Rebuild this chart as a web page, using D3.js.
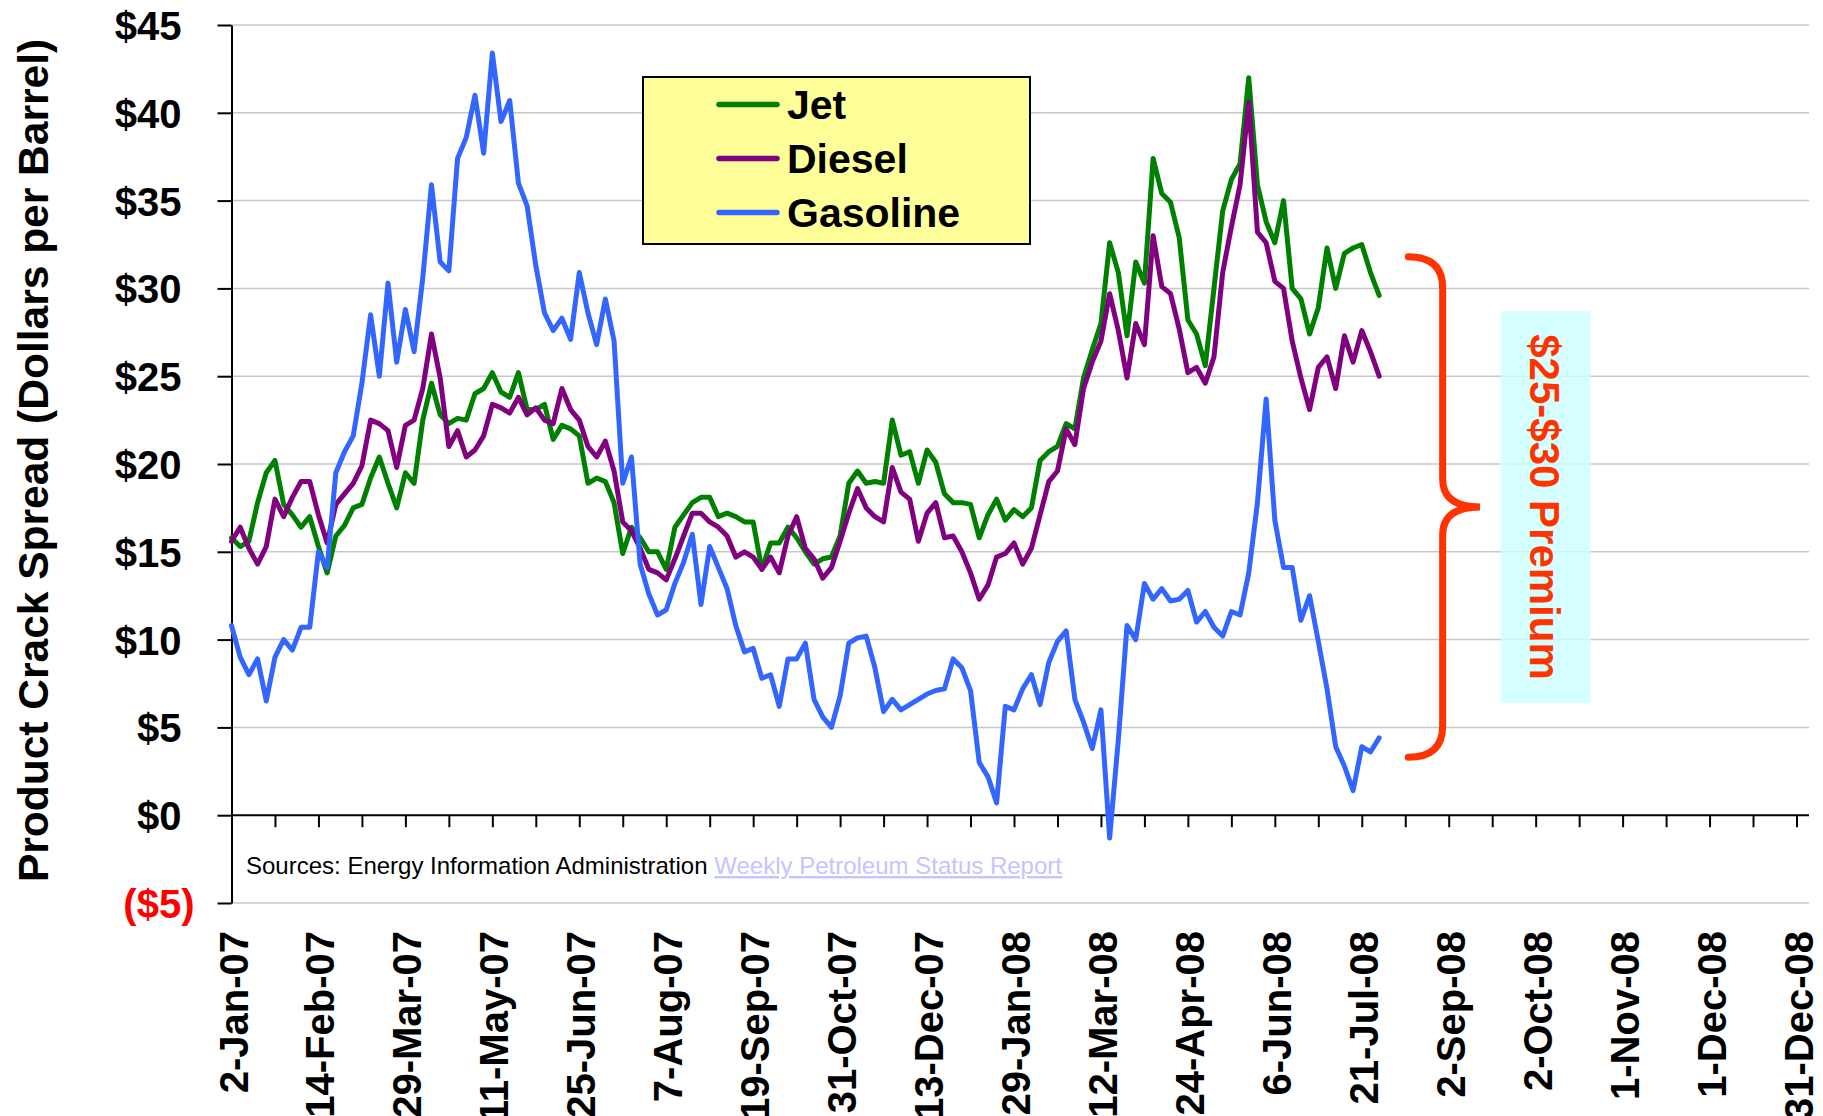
<!DOCTYPE html>
<html>
<head>
<meta charset="utf-8">
<script src="https://d3js.org/d3.v7.min.js"></script>
<style>
    body { margin: 0; background: #fff; }
    svg { display: block; font-family: Arial, "Liberation Sans", sans-serif; }
</style>
</head>
<body>
<svg id="chart" width="1823" height="1116"></svg>
<script>
// x axis: one label on every second tick
var dateLabels = ["2-Jan-07", "14-Feb-07", "29-Mar-07", "11-May-07", "25-Jun-07", "7-Aug-07",
    "19-Sep-07", "31-Oct-07", "13-Dec-07", "29-Jan-08", "12-Mar-08", "24-Apr-08", "6-Jun-08",
    "21-Jul-08", "2-Sep-08", "2-Oct-08", "1-Nov-08", "1-Dec-08", "31-Dec-08"];
var tickCount = 36;       // tick intervals on the category axis
var samplesPerTick = 5;   // readings per tick interval

var yTickValues = [-5, 0, 5, 10, 15, 20, 25, 30, 35, 40, 45];

var seriesNames = ["Jet", "Diesel", "Gasoline"];
var seriesColors = ["#008000", "#800080", "#3366ff"];

// crack spreads, $/bbl
var jet = [15.8, 15.3, 15.6, 17.8, 19.5, 20.2, 17.7, 17.1, 16.4, 17.0,
    15.3, 13.8, 15.9, 16.5, 17.5, 17.7, 19.2, 20.4, 18.9, 17.5,
    19.5, 18.9, 22.5, 24.6, 22.8, 22.3, 22.6, 22.5, 24.0, 24.3,
    25.2, 24.1, 23.8, 25.2, 23.1, 23.1, 23.4, 21.4, 22.2, 22.0,
    21.6, 18.9, 19.2, 19.0, 17.8, 14.9, 16.4, 15.8, 15.0, 15.0,
    14.0, 16.4, 17.1, 17.8, 18.1, 18.1, 17.0, 17.2, 17.0, 16.7,
    16.7, 14.0, 15.5, 15.5, 16.4, 15.8, 15.0, 14.3, 14.6, 14.7,
    15.9, 18.9, 19.6, 18.9, 19.0, 18.9, 22.5, 20.5, 20.7, 18.9,
    20.8, 20.1, 18.3, 17.8, 17.8, 17.7, 15.8, 17.1, 18.0, 16.8,
    17.4, 17.0, 17.5, 20.2, 20.7, 21.0, 22.3, 22.0, 24.9, 26.5,
    28.0, 32.6, 30.9, 27.3, 31.5, 30.3, 37.4, 35.4, 34.9, 32.9,
    28.2, 27.4, 25.6, 30.0, 34.4, 36.2, 37.1, 42.0, 35.9, 33.8,
    32.6, 35.0, 30.0, 29.4, 27.4, 28.9, 32.3, 30.0, 32.0, 32.3,
    32.5, 30.9, 29.6];

var diesel = [15.6, 16.4, 15.2, 14.3, 15.3, 18.0, 17.0, 18.1, 19.0, 19.0,
    17.1, 15.5, 17.7, 18.3, 18.9, 19.9, 22.5, 22.3, 21.9, 19.8,
    22.2, 22.5, 24.3, 27.4, 24.9, 21.0, 21.9, 20.4, 20.8, 21.6,
    23.4, 23.2, 22.9, 23.8, 22.8, 23.2, 22.5, 22.3, 24.3, 23.1,
    22.5, 21.0, 20.4, 21.3, 19.6, 16.7, 16.2, 15.2, 14.0, 13.8,
    13.4, 14.6, 15.9, 17.2, 17.2, 16.7, 16.4, 15.9, 14.7, 15.0,
    14.7, 14.0, 14.7, 13.8, 15.9, 17.0, 15.2, 14.6, 13.5, 14.1,
    15.6, 17.2, 18.6, 17.5, 17.0, 16.7, 19.8, 18.4, 18.0, 15.6,
    17.2, 17.8, 15.8, 15.9, 15.0, 13.8, 12.3, 13.1, 14.7, 14.9,
    15.5, 14.3, 15.2, 17.1, 19.0, 19.6, 22.0, 21.1, 24.3, 25.8,
    27.0, 29.7, 27.6, 24.9, 28.0, 26.8, 33.0, 30.1, 29.7, 27.7,
    25.2, 25.5, 24.6, 26.1, 30.9, 33.5, 35.9, 40.6, 33.2, 32.6,
    30.4, 30.0, 27.0, 24.9, 23.1, 25.5, 26.1, 24.3, 27.3, 25.8,
    27.6, 26.4, 25.0];

var gasoline = [10.8, 9.0, 8.0, 8.9, 6.5, 9.0, 10.0, 9.4, 10.7, 10.7,
    15.0, 14.1, 19.5, 20.7, 21.6, 24.6, 28.5, 25.0, 30.3, 25.8,
    28.8, 26.4, 30.6, 35.9, 31.5, 31.0, 37.4, 38.6, 41.0, 37.7,
    43.4, 39.5, 40.7, 36.0, 34.7, 31.3, 28.6, 27.6, 28.3, 27.1,
    30.9, 28.6, 26.8, 29.4, 27.0, 18.9, 20.4, 14.3, 12.6, 11.4,
    11.7, 13.2, 14.4, 16.0, 12.0, 15.3, 14.1, 12.9, 10.8, 9.3,
    9.5, 7.8, 8.0, 6.2, 8.9, 8.9, 9.8, 6.6, 5.6, 5.0,
    6.8, 9.8, 10.1, 10.2, 8.4, 5.9, 6.6, 6.0, 6.3, 6.6,
    6.9, 7.1, 7.2, 8.9, 8.4, 7.1, 3.0, 2.2, 0.7, 6.2,
    6.0, 7.2, 8.0, 6.3, 8.7, 9.9, 10.5, 6.6, 5.3, 3.8,
    6.0, -1.3, 4.3, 10.8, 10.0, 13.2, 12.3, 12.9, 12.2, 12.3,
    12.8, 11.0, 11.6, 10.7, 10.2, 11.6, 11.4, 13.8, 17.8, 23.7,
    16.8, 14.1, 14.1, 11.1, 12.5, 9.9, 7.2, 3.9, 2.8, 1.4,
    3.9, 3.6, 4.4];

// annotation, in axis units
var premiumLabel = "$25-$30 Premium";
var braceSpan = [31.8, 3.3];      // dollars, top and bottom ends of the brace
var braceTicks = [27.07, 27.86, 28.72]; // ends, spine, point
var premiumBox = {t0: 29.2, t1: 31.27, top: 28.7, bottom: 6.4};

var sourceText = "Sources: Energy Information Administration ";
var sourceLink = "Weekly Petroleum Status Report";

var svg = d3.select("#chart");

var x = d3.scaleLinear().domain([0, tickCount]).range([231.5, 1796.5]);
var y = d3.scaleLinear().domain([-5, 45]).range([903, 25]);
var plotRight = x(tickCount) + 12.5;   // plot area runs a little past the last tick

function dollars(v) {
    return v < 0 ? "($" + (-v) + ")" : "$" + v;
}

// horizontal gridlines
svg.append("g")
    .selectAll("line")
    .data(yTickValues.filter(function (d) { return d !== 0; }))
    .enter().append("line")
    .attr("x1", x(0))
    .attr("x2", plotRight)
    .attr("y1", function (d) { return y(d); })
    .attr("y2", function (d) { return y(d); })
    .attr("stroke", "#c8c8c8")
    .attr("stroke-width", 1.5);

// y axis
var yAxis = d3.axisLeft(y)
    .tickValues(yTickValues)
    .tickSize(14)
    .tickSizeOuter(0)
    .tickPadding(36)
    .tickFormat(dollars);

var gy = svg.append("g")
    .attr("transform", "translate(" + x(0) + ",0)")
    .call(yAxis)
    .attr("font-family", null)
    .attr("font-size", null);
gy.select(".domain").attr("stroke", "#000").attr("stroke-width", 2);
gy.selectAll(".tick line").attr("stroke", "#000").attr("stroke-width", 2);
gy.selectAll(".tick text")
    .attr("font-size", 40)
    .attr("font-weight", "bold")
    .attr("dy", "0.36em")
    // negative format has a closing bracket that positive values leave room for
    .attr("dx", function (d) { return d < 0 ? 13 : 0; })
    .attr("fill", function (d) { return d < 0 ? "#ff0000" : "#000"; });

// x axis along $0
var xAxis = d3.axisBottom(x)
    .tickValues(d3.range(0, tickCount + 1))
    .tickSize(12)
    .tickSizeOuter(0)
    .tickFormat("");

var gx = svg.append("g")
    .attr("transform", "translate(0," + y(0) + ")")
    .call(xAxis);
gx.select(".domain").remove();
gx.append("line")
    .attr("x1", x(0)).attr("x2", plotRight)
    .attr("stroke", "#000").attr("stroke-width", 2);
gx.selectAll(".tick line").attr("stroke", "#000").attr("stroke-width", 2);

svg.append("g")
    .selectAll("text")
    .data(dateLabels)
    .enter().append("text")
    .attr("transform", function (d, i) {
        return "translate(" + (x(i * 2) + 16) + ",931) rotate(-90)";
    })
    .attr("text-anchor", "end")
    .attr("font-size", 40)
    .attr("font-weight", "bold")
    .text(function (d) { return d; });

// y axis title
svg.append("text")
    .attr("transform", "translate(48," + y(20.2) + ") rotate(-90)")
    .attr("text-anchor", "middle")
    .attr("font-size", 42.5)
    .attr("font-weight", "bold")
    .text("Product Crack Spread (Dollars per Barrel)");

// source note
var src = svg.append("text")
    .attr("x", 246)
    .attr("y", 874)
    .attr("font-size", 24)
    .attr("fill", "#000")
    .attr("xml:space", "preserve")
    .text(sourceText);
src.append("tspan")
    .attr("fill", "#c4c4ff")
    .attr("text-decoration", "underline")
    .text(sourceLink);

// the three series
var line = d3.line()
    .x(function (d, i) { return x(i / samplesPerTick); })
    .y(function (d) { return y(d); });

[jet, diesel, gasoline].forEach(function (s, j) {
    svg.append("path")
        .datum(s)
        .attr("d", line)
        .attr("fill", "none")
        .attr("stroke", seriesColors[j])
        .attr("stroke-width", 5)
        .attr("stroke-linejoin", "round")
        .attr("stroke-linecap", "round");
});

// legend
var legend = svg.append("g");
legend.append("rect")
    .attr("x", 643).attr("y", 77)
    .attr("width", 387).attr("height", 167)
    .attr("fill", "#ffff99")
    .attr("stroke", "#000")
    .attr("stroke-width", 2);

var rows = legend.selectAll("g.row")
    .data(seriesNames)
    .enter().append("g")
    .attr("class", "row")
    .attr("transform", function (d, i) { return "translate(0," + (104.5 + i * 54) + ")"; });
rows.append("line")
    .attr("x1", 719).attr("x2", 777)
    .attr("stroke", function (d, i) { return seriesColors[i]; })
    .attr("stroke-width", 5.5)
    .attr("stroke-linecap", "round");
rows.append("text")
    .attr("x", 787)
    .attr("dy", "0.36em")
    .attr("font-size", 41)
    .attr("font-weight", "bold")
    .text(function (d) { return d; });

// brace and premium label
var bx0 = x(braceTicks[0]), bx1 = x(braceTicks[1]), bTip = x(braceTicks[2]);
var bTop = y(braceSpan[0]), bBot = y(braceSpan[1]), bMid = (bTop + bBot) / 2;
var r = 31;
var bracePath = d3.path();
bracePath.moveTo(bx0, bTop);
bracePath.quadraticCurveTo(bx1, bTop, bx1, bTop + r);
bracePath.lineTo(bx1, bMid - 28);
bracePath.quadraticCurveTo(bx1, bMid, bTip, bMid);
bracePath.quadraticCurveTo(bx1, bMid, bx1, bMid + 28);
bracePath.lineTo(bx1, bBot - r);
bracePath.quadraticCurveTo(bx1, bBot, bx0, bBot);

svg.append("path")
    .attr("d", bracePath.toString())
    .attr("fill", "none")
    .attr("stroke", "#ff3300")
    .attr("stroke-width", 7)
    .attr("stroke-linecap", "round");

svg.append("rect")
    .attr("x", x(premiumBox.t0))
    .attr("y", y(premiumBox.top))
    .attr("width", x(premiumBox.t1) - x(premiumBox.t0))
    .attr("height", y(premiumBox.bottom) - y(premiumBox.top))
    .attr("fill", "#ccffff")
    .attr("opacity", 0.8);

svg.append("text")
    .attr("transform", "translate(1530," + ((y(premiumBox.top) + y(premiumBox.bottom)) / 2) + ") rotate(90)")
    .attr("text-anchor", "middle")
    .attr("font-size", 42)
    .attr("font-weight", "bold")
    .attr("fill", "#ff3300")
    .text(premiumLabel);
</script>
</body>
</html>
